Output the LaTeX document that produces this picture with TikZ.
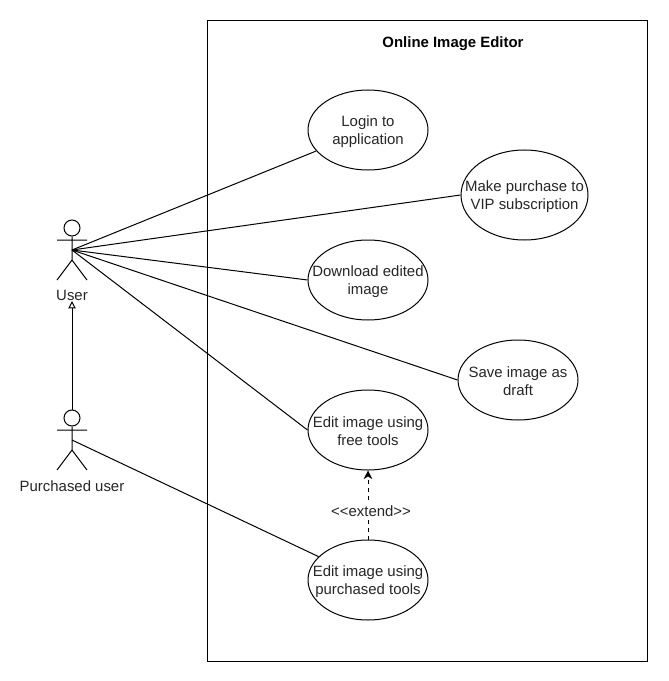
\documentclass[tikz,border=0pt]{standalone}
\usepackage{fontspec}
\setmainfont{Liberation Sans}
\usetikzlibrary{shapes.geometric,arrows.meta}
\tikzset{
  x=0.75pt,y=-0.75pt,
  every node/.style={font=\fontsize{11.2pt}{13.5pt}\selectfont,text=black!85},
  usecase/.style={draw,ellipse,fill=white,inner sep=0pt,line width=0.75pt,minimum width=90pt,minimum height=60pt},
  head/.style={draw,circle,minimum size=12pt,inner sep=0pt,line width=0.75pt},
  link/.style={line width=0.75pt},
  lbl/.style={inner sep=0pt,align=center},
  casetext/.style={label={[lbl,yshift=-1.2pt]center:#1}}
}
\begin{document}
\begin{tikzpicture}
\useasboundingbox (0,0) rectangle (668,681);
\fill[white] (0,0) rectangle (668,681);
\node[draw,line width=0.75pt,minimum width=330pt,minimum height=480pt,inner sep=0pt] (frame) at (427.5,341) {};
\node[lbl,font=\fontsize{11.2pt}{13.5pt}\selectfont\bfseries,text=black] (title) at (453,44) {Online Image Editor};

\node[usecase,casetext={Login to\\application}] (login) at (368,130) {};
\node[usecase,minimum width=95.25pt,minimum height=67.5pt,casetext={Make purchase to\\VIP subscription}] (vip) at (524.5,195) {};
\node[usecase,casetext={Download edited\\image}] (download) at (368,280) {};
\node[usecase,casetext={Save image as\\draft}] (draft) at (518,380) {};
\node[usecase,casetext={Edit image using\\free tools}] (free) at (368,430) {};
\node[usecase,casetext={Edit image using\\purchased tools}] (paid) at (368,580) {};

% actors
\node[head] (uhead) at (72,228) {};
\coordinate (uhub) at (72,250);
\coordinate (uhip) at (72,260);
\coordinate (ularm) at (57,240); \coordinate (urarm) at (87,240);
\coordinate (ulfoot) at (57,280); \coordinate (urfoot) at (87,280);
\draw[link] (uhead) -- (uhip) (ularm) -- (urarm) (ulfoot) -- (uhip) -- (urfoot);
\node[lbl] (ulabel) at (72,295) {User};

\node[head] (phead) at (72,418) {};
\coordinate (phub) at (72,440);
\coordinate (phip) at (72,450);
\coordinate (plarm) at (57,430); \coordinate (prarm) at (87,430);
\coordinate (plfoot) at (57,470); \coordinate (prfoot) at (87,470);
\draw[link] (phead) -- (phip) (plarm) -- (prarm) (plfoot) -- (phip) -- (prfoot);
\node[lbl] (plabel) at (72,486) {Purchased user};

% connectors
\draw[link] (uhub) -- (login);
\draw[link] (uhub) -- (vip.west);
\draw[link] (uhub) -- (download.west);
\draw[link] (uhub) -- (draft.west);
\draw[link] (uhub) -- (free.west);
\draw[link] (phub) -- (paid);
\coordinate (gentip) at (72,301);
\draw[link,-{Triangle[open,fill=white,length=5.5pt,width=5.5pt]}] (phead) -- (gentip);
\draw[link,dashed,dash pattern=on 3pt off 3pt,-{Stealth[length=6.5pt,width=6.5pt]}] (paid.north) -- (free.south);
\node[lbl,fill=white,inner sep=1pt] (ext) at (371,511) {<{}<extend>{}>};
\end{tikzpicture}
\end{document}
